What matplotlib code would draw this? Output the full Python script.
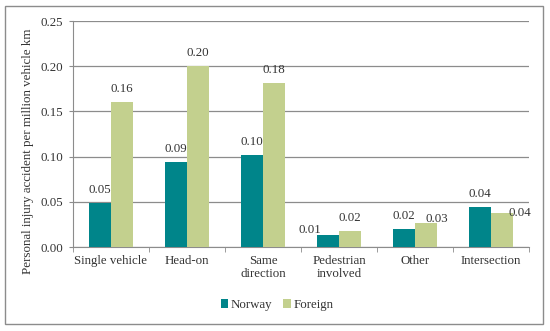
import numpy as np
import matplotlib.pyplot as plt
from matplotlib.patches import Rectangle

plt.rcParams["font.family"] = ["Liberation Serif", "DejaVu Serif"]

categories = ["Single vehicle", "Head-on", "Same\ndirection", "Pedestrian\ninvolved", "Other", "Intersection"]
norway = [0.049, 0.094, 0.102, 0.013, 0.020, 0.044]
foreign = [0.160, 0.200, 0.181, 0.018, 0.026, 0.038]
norway_labels = ["0.05", "0.09", "0.10", "0.01", "0.02", "0.04"]
foreign_labels = ["0.16", "0.20", "0.18", "0.02", "0.03", "0.04"]

teal = "#00858A"
green = "#C3D08E"
grey = "#8C8C8C"
fs = 9.3

fig = plt.figure(figsize=(5.5, 3.31), dpi=100)
ax = fig.add_axes([73 / 550, 1 - 247 / 331, (529 - 73) / 550, (247 - 21) / 331])

x = np.arange(len(categories))
w = 0.285
b1 = ax.bar(x - w / 2, norway, w, color=teal, label="Norway", zorder=3)
b2 = ax.bar(x + w / 2, foreign, w, color=green, label="Foreign", zorder=3)

# label nudges (pixels) where Excel moved labels to avoid overlap
nudge_n = {3: (-18, 5.5)}
nudge_f = {4: (11, 4), 5: (18, 0)}
px = 72 / 100
for bars, labs, nudge in [(b1, norway_labels, nudge_n), (b2, foreign_labels, nudge_f)]:
    for i, (rect, lab) in enumerate(zip(bars, labs)):
        dx, dy = nudge.get(i, (0, 13))
        ax.annotate(lab, (rect.get_x() + rect.get_width() / 2, rect.get_height()),
                    xytext=(dx * px, dy * px), textcoords="offset points",
                    ha="center", va="center", fontsize=fs, color="#333333", zorder=4)

ax.set_xlim(-0.5, len(categories) - 0.5)
ax.set_ylim(0, 0.25)
yt = np.arange(0, 0.251, 0.05)
ax.set_yticks(yt)
ax.set_yticklabels([f"{v:.2f}" for v in yt], fontsize=fs, color="#333333")
ax.yaxis.grid(True, color=grey, linewidth=0.9, zorder=0)
ax.set_axisbelow(True)

ax.set_xticks(x)
ax.set_xticklabels(categories, fontsize=fs, color="#333333", linespacing=1.1)
ax.tick_params(axis="x", length=0, pad=6)
ax.set_xticks(np.arange(-0.5, len(categories), 1), minor=True)
ax.tick_params(axis="x", which="minor", length=3.5, color=grey)
ax.tick_params(axis="y", length=3, color=grey, pad=4)

for s in ["top", "right"]:
    ax.spines[s].set_visible(False)
ax.spines["left"].set_color(grey)
ax.spines["bottom"].set_color(grey)

fig.text(28 / 550, 1 - 151 / 331, "Personal injury accident per million vehicle km",
         rotation=90, ha="center", va="center", fontsize=9.4, color="#333333")

fig.legend(loc="center", bbox_to_anchor=(277 / 550, 1 - 305 / 331), ncol=2, frameon=False,
           prop={"family": "Liberation Serif", "size": fs}, labelcolor="#333333",
           handlelength=0.6, handleheight=0.6, handletextpad=0.2, columnspacing=0.8)

fig.patches.append(Rectangle((5 / 550, 1 - 324 / 331), (543 - 5) / 550, (324 - 6) / 331,
                             transform=fig.transFigure, fill=False, edgecolor=grey, linewidth=1))

fig.savefig("out.png", dpi=100)
